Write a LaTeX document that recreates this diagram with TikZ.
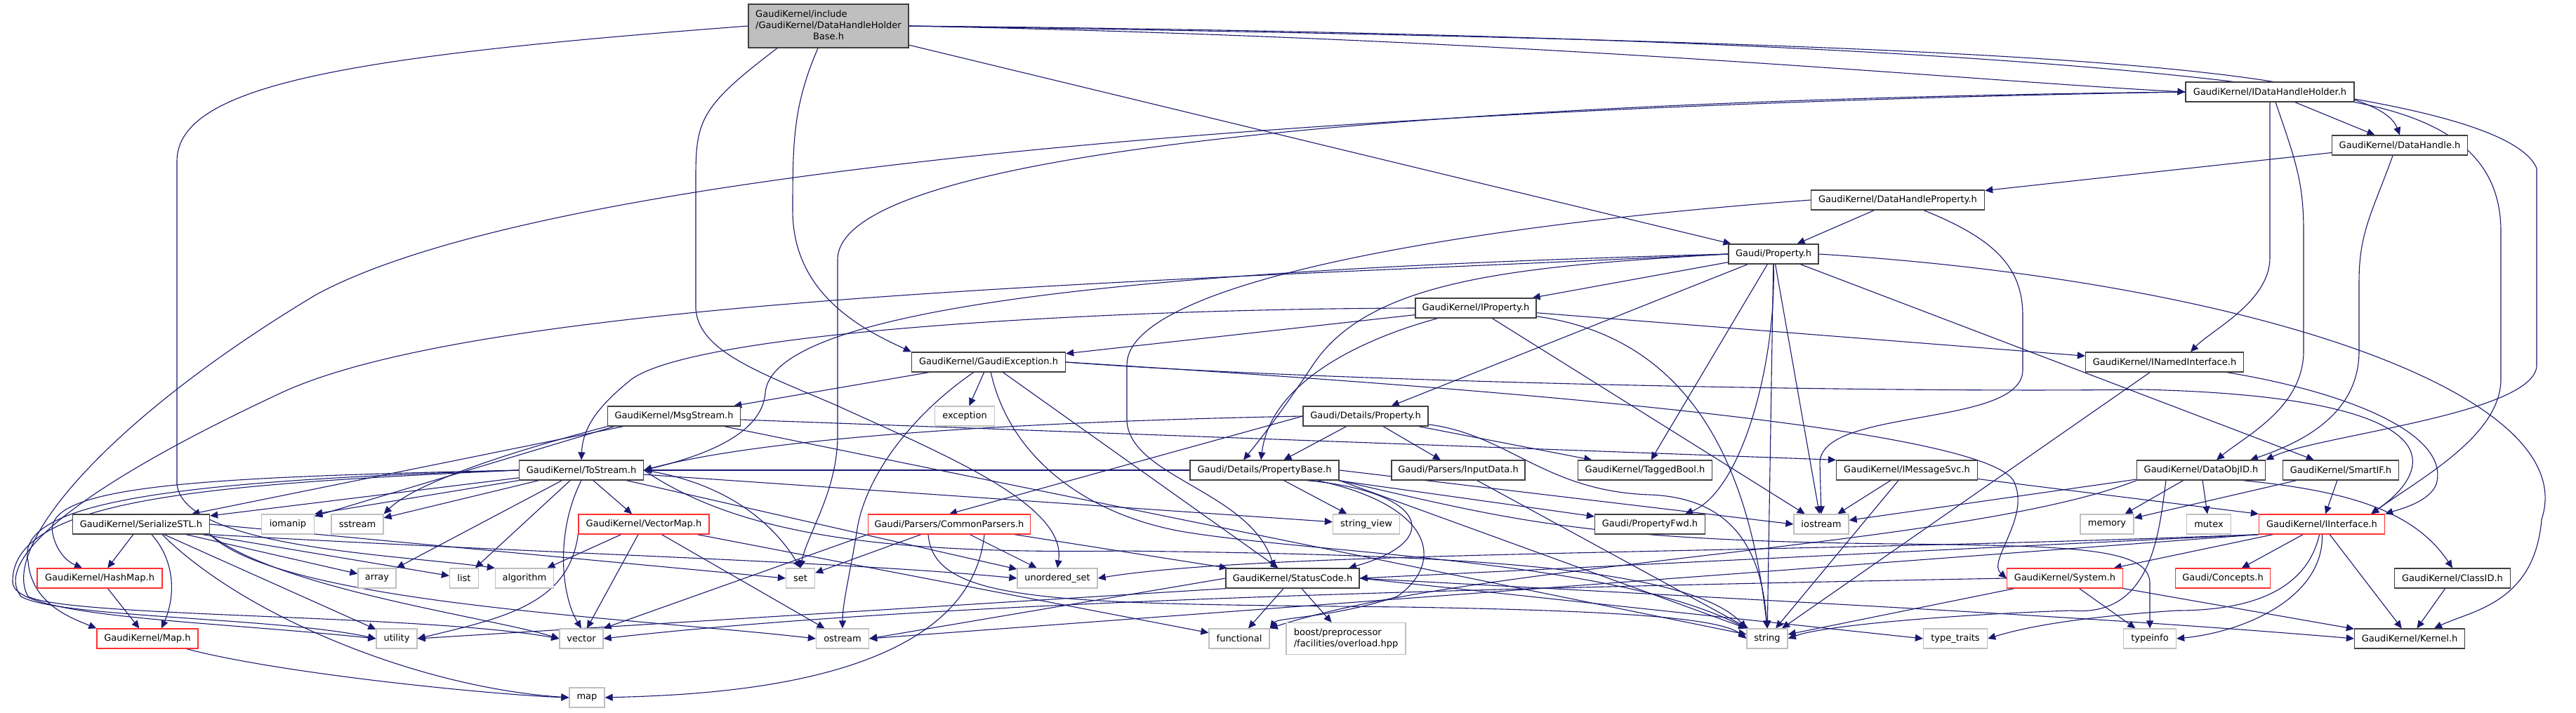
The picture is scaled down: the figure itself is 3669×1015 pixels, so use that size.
\documentclass[tikz,border=0pt]{standalone}
\usepackage{fontspec}
\setmainfont{DejaVu Sans}
\usetikzlibrary{arrows.meta}
\definecolor{doxedge}{HTML}{191970}
\definecolor{doxblack}{HTML}{404040}
\definecolor{doxred}{HTML}{FF3030}
\definecolor{doxgray}{HTML}{BFBFBF}
\definecolor{rootfill}{HTML}{BFBFBF}
\pgfdeclarelayer{bg}
\pgfsetlayers{bg,main}
\newcommand{\nodefont}{\fontsize{13}{16}\selectfont}
\begin{document}
\begin{tikzpicture}[x=1pt,y=-1pt,
  nbase/.style={rectangle, line width=1.3pt, fill=white, inner sep=0pt, minimum height=28pt, font=\nodefont, text=black, align=center},
  nb/.style={nbase, draw=doxblack},
  nr/.style={nbase, draw=doxred},
  ng/.style={nbase, draw=doxgray},
  dep/.style={draw=doxedge, line width=1.1pt, -{Triangle[length=11pt,width=10pt]}},
]
\useasboundingbox (0,0) rectangle (3669,1015);
% ---------------- nodes ----------------
\node[nb, fill=rootfill, minimum width=228pt, minimum height=62pt] (R) at (1180,37)
  {\begin{tabular}{@{}l@{}}GaudiKernel/include\\/GaudiKernel/DataHandleHolder\\\multicolumn{1}{@{}c@{}}{Base.h}\end{tabular}};
\node[nb, minimum width=240pt] (IDHH) at (3233,131) {GaudiKernel/IDataHandleHolder.h};
\node[nb, minimum width=193pt] (DH) at (3418,207) {GaudiKernel/DataHandle.h};
\node[nb, minimum width=247pt] (DHP) at (2703,285) {GaudiKernel/DataHandleProperty.h};
\node[nb, minimum width=128pt] (P) at (2526,362) {Gaudi/Property.h};
\node[nb, minimum width=172pt] (IP) at (2102,439) {GaudiKernel/IProperty.h};
\node[nb, minimum width=219pt] (GE) at (1408,516) {GaudiKernel/GaudiException.h};
\node[nb, minimum width=225pt] (INI) at (3083,516) {GaudiKernel/INamedInterface.h};
\node[nb, minimum width=189pt] (MS) at (960,593) {GaudiKernel/MsgStream.h};
\node[ng, minimum width=85pt] (exc) at (1374,593) {exception};
\node[nb, minimum width=178pt] (DP) at (1945,593) {Gaudi/Details/Property.h};
\node[nb, minimum width=177pt] (TS) at (828,670) {GaudiKernel/ToStream.h};
\node[nb, minimum width=212pt] (PB) at (1801,670) {Gaudi/Details/PropertyBase.h};
\node[nb, minimum width=190pt] (ID) at (2077,670) {Gaudi/Parsers/InputData.h};
\node[nb, minimum width=191pt] (TB) at (2343,670) {GaudiKernel/TaggedBool.h};
\node[nb, minimum width=201pt] (IMS) at (2716,670) {GaudiKernel/IMessageSvc.h};
\node[nb, minimum width=183pt] (DOID) at (3135,670) {GaudiKernel/DataObjID.h};
\node[nb, minimum width=165pt] (SIF) at (3334,670) {GaudiKernel/SmartIF.h};
\node[nb, minimum width=195pt] (SSTL) at (201,747) {GaudiKernel/SerializeSTL.h};
\node[ng, minimum width=75pt] (iomanip) at (410,747) {iomanip};
\node[ng, minimum width=74pt] (sstream) at (509,747) {sstream};
\node[nr, minimum width=186pt] (VM) at (917,747) {GaudiKernel/VectorMap.h};
\node[nr, minimum width=231pt] (CP) at (1352,747) {Gaudi/Parsers/CommonParsers.h};
\node[ng, minimum width=95pt] (sview) at (1946,747) {string\_view};
\node[nb, minimum width=157pt] (PF) at (2350,747) {Gaudi/PropertyFwd.h};
\node[ng, minimum width=78pt] (iostream) at (2594,747) {iostream};
\node[ng, minimum width=76pt] (memory) at (3001,747) {memory};
\node[ng, minimum width=63pt] (mutex) at (3146,747) {mutex};
\node[nr, minimum width=179pt] (II) at (3307,747) {GaudiKernel/IInterface.h};
\node[nr, minimum width=178pt] (HM) at (142,824) {GaudiKernel/HashMap.h};
\node[ng, minimum width=54pt] (array) at (537,824) {array};
\node[ng, minimum width=41pt] (list) at (661,824) {list};
\node[ng, minimum width=83pt] (algorithm) at (747,824) {algorithm};
\node[ng, minimum width=41pt] (set) at (1140,824) {set};
\node[ng, minimum width=114pt] (uset) at (1506,824) {unordered\_set};
\node[nb, minimum width=190pt] (SC) at (1841,824) {GaudiKernel/StatusCode.h};
\node[nr, minimum width=165pt] (SYS) at (2941,824) {GaudiKernel/System.h};
\node[nr, minimum width=135pt] (CON) at (3166,824) {Gaudi/Concepts.h};
\node[nb, minimum width=165pt] (CID) at (3493,824) {GaudiKernel/ClassID.h};
\node[nr, minimum width=144pt] (Map) at (210,910) {GaudiKernel/Map.h};
\node[ng, minimum width=58pt] (utility) at (565,910) {utility};
\node[ng, minimum width=62pt] (vector) at (828,910) {vector};
\node[ng, minimum width=75pt] (ostream) at (1200,910) {ostream};
\node[ng, minimum width=86pt] (functional) at (1765,910) {functional};
\node[ng, minimum width=170pt, minimum height=45pt] (boost) at (1917,910)
  {\begin{tabular}{@{}l@{}}boost/preprocessor\\/facilities/overload.hpp\end{tabular}};
\node[ng, minimum width=58pt] (string) at (2517,910) {string};
\node[ng, minimum width=91pt] (ttraits) at (2785,910) {type\_traits};
\node[ng, minimum width=75pt] (typeinfo) at (3062,910) {typeinfo};
\node[nb, minimum width=157pt] (Kernel) at (3432,910) {GaudiKernel/Kernel.h};
\node[ng, minimum width=50pt] (map) at (836,994) {map};
% ---------------- edges ----------------
\begin{pgfonlayer}{bg}
\fill[white] (0,0) rectangle (3669,1015);
% root
\draw[dep] (R.east) .. controls (2200,55) and (2800,115) .. (IDHH.west);
\draw[dep] (R.east) .. controls (2800,60) and (3380,90) .. (DH.north);
\draw[dep] (R.east) .. controls (2700,50) and (3560,110) .. (3613,240) -- (3613,520) .. controls (3613,590) and (3300,620) .. (DOID.north east);
\draw[dep] (R) -- (P);
\draw[dep] ([xshift=-15pt]R.south) .. controls (1130,150) and (1129,200) .. (1129,300) .. controls (1129,420) and (1230,470) .. (GE.north west);
\draw[dep] ([xshift=-73pt]R.south) .. controls (1000,150) and (991,170) .. (991,250) -- (991,440) .. controls (995,500) and (1080,530) .. (1190,577) .. controls (1350,650) and (1520,720) .. (uset.north);
\draw[dep] (R.west) .. controls (500,80) and (252,120) .. (252,230) -- (252,690) .. controls (262,780) and (560,790) .. (algorithm.north west);
% IDataHandleHolder
\draw[dep] (IDHH) -- (DH);
\draw[dep] (IDHH.south) -- (3233,367) .. controls (3233,430) and (3150,470) .. ([xshift=37pt]INI.north);
\draw[dep] ([xshift=8pt]IDHH.south) .. controls (3270,230) and (3281,260) .. (3281,330) -- (3281,500) .. controls (3281,580) and (3200,620) .. ([xshift=22pt]DOID.north);
\draw[dep] (IDHH.south east) .. controls (3480,170) and (3562,220) .. (3562,330) -- (3562,540) .. controls (3562,620) and (3450,680) .. ([xshift=-20pt]II.north east);
\draw[dep] (IDHH.west) .. controls (2300,140) and (1193,190) .. (1193,370) -- (1193,620) .. controls (1193,700) and (1150,760) .. (set.north);
\draw[dep] (IDHH.west) .. controls (2000,150) and (800,230) .. (450,420) .. controls (150,600) and (0,780) .. (40,850) .. controls (100,880) and (600,875) .. (vector.west);
% DataHandle
\draw[dep] (DH) -- (DHP);
\draw[dep] ([xshift=-10pt]DH.south) .. controls (3380,300) and (3360,330) .. (3360,400) -- (3360,500) .. controls (3360,590) and (3280,630) .. ([xshift=70pt]DOID.north);
% DataHandleProperty
\draw[dep] (DHP) -- (P);
\draw[dep] (DHP.west) .. controls (2100,320) and (1605,400) .. (1605,520) -- (1605,600) .. controls (1610,680) and (1780,700) .. ([xshift=-26pt]SC.north);
\draw[dep] ([xshift=37pt]DHP.south) .. controls (2840,340) and (2881,380) .. (2881,450) -- (2881,527) .. controls (2881,610) and (2592,580) .. (2592,660) -- (iostream.north);
% Gaudi/Property.h
\draw[dep] (P) -- (IP);
\draw[dep] (P) -- (DP);
\draw[dep] (P.west) .. controls (2150,380) and (1950,400) .. (1870,520) .. controls (1830,580) and (1800,620) .. ([xshift=-30pt]PB.north);
\draw[dep] (P.south) .. controls (2530,520) and (2480,700) .. ([xshift=50pt]PF.north);
\draw[dep] (P) -- (TB);
\draw[dep] (P) -- (SIF);
\draw[dep] (P.east) .. controls (3200,400) and (3680,560) .. (3620,740) .. controls (3610,860) and (3520,870) .. ([xshift=35pt]Kernel.north);
\draw[dep] (P.west) .. controls (1800,380) and (1100,420) .. (1090,560) .. controls (1085,620) and (1000,650) .. (TS.east);
\draw[dep] (P.west) .. controls (1700,400) and (700,420) .. (400,560) .. controls (100,700) and (-10,800) .. (30,850) .. controls (80,880) and (400,880) .. (utility.west);
\draw[dep] (P) -- (string);
\draw[dep] (P) -- (iostream);
% IProperty
\draw[dep] (IP) -- (GE);
\draw[dep] (IP) -- (INI);
\draw[dep] (IP.west) .. controls (1600,440) and (1000,470) .. (900,540) .. controls (850,580) and (830,610) .. (TS.north);
\draw[dep] (IP) .. controls (1950,480) and (1810,540) .. ([xshift=-5pt]PB.north);
\draw[dep] (IP) -- (iostream);
\draw[dep] (IP) .. controls (2400,480) and (2490,650) .. (string.north);
% GaudiException
\draw[dep] (GE) -- (MS);
\draw[dep] (GE) -- (exc);
\draw[dep] (GE) .. controls (1300,590) and (1230,680) .. (1220,760) .. controls (1210,820) and (1200,860) .. (ostream.north);
\draw[dep] (GE) -- (SC);
\draw[dep] (GE) .. controls (1440,660) and (1560,740) .. (1700,760) .. controls (1900,790) and (2300,800) .. (string.north west);
\draw[dep] (GE.east) .. controls (1900,540) and (2850,600) .. (2870,690) .. controls (2890,740) and (2830,800) .. (SYS.west);
\draw[dep] (GE.east) .. controls (1900,545) and (2700,560) .. (3050,555) .. controls (3480,565) and (3480,660) .. ([xshift=-20pt]II.north east);
% INamedInterface
\draw[dep] (INI) .. controls (3350,560) and (3490,620) .. (3470,690) .. controls (3460,715) and (3420,725) .. (II.north east);
\draw[dep] (INI) -- (string);
% MsgStream
\draw[dep] (MS) -- (SSTL);
\draw[dep] ([xshift=10pt]MS.south west) -- (iomanip);
\draw[dep] (MS.south west) .. controls (780,630) and (600,680) .. (sstream.north east);
\draw[dep] ([yshift=-5pt]MS.east) -- (IMS.north west);
\draw[dep] (MS) -- (string);
% Details/Property
\draw[dep] (DP) -- (PB);
\draw[dep] (DP) -- (ID);
\draw[dep] (DP) -- (TB);
\draw[dep] (DP.west) .. controls (1500,600) and (1100,620) .. (TS.east);
\draw[dep] (DP.west) -- (CP.north);
\draw[dep] (DP) .. controls (2150,620) and (2200,700) .. (2350,705) .. controls (2480,710) and (2510,800) .. (string.north);
% PropertyBase
\draw[dep] (PB) -- (sview);
\draw[dep] ([xshift=60pt]PB.south) .. controls (2030,700) and (2060,770) .. ([xshift=80pt]SC.north);
\draw[dep] (PB) -- (PF);
\draw[dep] (PB.east) -- (iostream.west);
\draw[dep] (PB.south east) -- (string.north west);
\draw[dep] (PB.south east) .. controls (2150,740) and (2250,770) .. (2700,775) .. controls (2950,778) and (3060,780) .. (3062,830) -- (typeinfo.north);
\draw[dep] ([xshift=75pt]PB.south) .. controls (2040,720) and (2060,800) .. (1990,850) .. controls (1900,880) and (1820,880) .. (functional.north east);
\draw[dep] (PB.west) -- (TS.east);
% InputData
\draw[dep] (ID) -- (string);
% IMessageSvc
\draw[dep] (IMS) -- (II.north west);
\draw[dep] (IMS) -- (iostream);
\draw[dep] (IMS) -- (string);
% DataObjID
\draw[dep] ([xshift=60pt]DOID.south) .. controls (3350,700) and (3440,730) .. (CID.north);
\draw[dep] (DOID) -- (memory);
\draw[dep] (DOID) -- (mutex);
\draw[dep] (DOID) -- (iostream);
\draw[dep] ([xshift=-50pt]DOID.south) .. controls (3075,760) and (3065,880) .. (2950,870) .. controls (2800,875) and (2600,890) .. (string.east);
\draw[dep] (DOID.south west) .. controls (2800,780) and (2100,800) .. (functional.north east);
% SmartIF
\draw[dep] (SIF) -- (II);
\draw[dep] (SIF) -- (memory);
% IInterface
\draw[dep] (II) -- (SYS);
\draw[dep] (II) -- (CON);
\draw[dep] (II) -- (Kernel);
\draw[dep] (II) .. controls (3290,820) and (3240,870) .. (3100,870) .. controls (2950,880) and (2880,895) .. (ttraits.east);
\draw[dep] (II) .. controls (3310,850) and (3200,900) .. (typeinfo.east);
\draw[dep] (II.south west) -- (SC.east);
\draw[dep] (II.south west) -- (ostream.east);
\draw[dep] (II.south west) .. controls (2500,790) and (1800,785) .. (uset.east);
% System
\draw[dep] (SYS) -- (Kernel);
\draw[dep] (SYS) -- (typeinfo);
\draw[dep] (SYS) -- (string);
\draw[dep] (SYS.west) .. controls (2000,840) and (1300,860) .. (vector.east);
% StatusCode
\draw[dep] (SC) -- (boost);
\draw[dep] (SC) -- (functional);
\draw[dep] (SC.west) -- (ostream.east);
\draw[dep] (SC.south west) -- (utility.east);
\draw[dep] (SC.east) .. controls (2600,860) and (3000,880) .. (Kernel.west);
\draw[dep] (SC.east) -- (ttraits.west);
% ClassID
\draw[dep] (CID) -- (Kernel);
% ToStream
\draw[dep] (TS) -- (SSTL);
\draw[dep] (TS.south west) -- (iomanip.north east);
\draw[dep] (TS) -- (sstream);
\draw[dep] (TS) -- (array);
\draw[dep] (TS) -- (list);
\draw[dep] (TS) -- (VM);
\draw[dep] (TS.east) .. controls (1050,690) and (1110,760) .. (set.north);
\draw[dep] (TS) -- (uset);
\draw[dep] (TS) -- (sview);
\draw[dep] (TS.east) .. controls (1050,760) and (1250,790) .. (1600,785) .. controls (2000,790) and (2400,800) .. (string.north west);
\draw[dep] (TS.south) .. controls (790,760) and (800,850) .. (vector.north);
\draw[dep] (TS.west) .. controls (300,680) and (60,690) .. (75,760) .. controls (80,785) and (95,800) .. ([xshift=-25pt]HM.north);
\draw[dep] (TS.west) .. controls (250,685) and (20,715) .. (40,800) .. controls (45,860) and (100,880) .. (Map.north west);
\draw[dep] (TS.west) .. controls (300,690) and (15,710) .. (18,830) .. controls (20,880) and (300,885) .. (utility.west);
% SerializeSTL
\draw[dep] (SSTL) -- (HM);
\draw[dep] ([xshift=15pt]SSTL.south) .. controls (250,800) and (250,850) .. ([xshift=20pt]Map.north);
\draw[dep] ([xshift=30pt]SSTL.south) .. controls (350,880) and (600,980) .. (map.west);
\draw[dep] (SSTL) -- (utility);
\draw[dep] (SSTL.south east) .. controls (400,840) and (700,880) .. (vector.west);
\draw[dep] (SSTL) -- (array);
\draw[dep] (SSTL) -- (list);
\draw[dep] (SSTL.south east) .. controls (400,860) and (900,880) .. (ostream.west);
\draw[dep] (SSTL.east) -- (set.west);
\draw[dep] (SSTL.south east) .. controls (800,790) and (1200,800) .. (uset.west);
% HashMap, Map
\draw[dep] (HM) -- (Map);
\draw[dep] (Map) .. controls (400,960) and (700,990) .. (map.west);
% VectorMap
\draw[dep] (VM) -- (algorithm);
\draw[dep] (VM) -- (vector);
\draw[dep] (VM.south west) .. controls (810,860) and (720,880) .. (utility.east);
\draw[dep] (VM) -- (ostream);
\draw[dep] (VM) -- (functional);
% CommonParsers
\draw[dep] (CP) -- (set);
\draw[dep] (CP) -- (uset);
\draw[dep] (CP) -- (SC);
\draw[dep] ([xshift=-30pt]CP.south) .. controls (1330,860) and (1500,860) .. (2000,865) .. controls (2300,870) and (2450,880) .. (string.west);
\draw[dep] ([xshift=50pt]CP.south) .. controls (1380,980) and (1000,990) .. (map.east);
\draw[dep] (CP.south west) -- (vector.north east);
\end{pgfonlayer}
\end{tikzpicture}
\end{document}
